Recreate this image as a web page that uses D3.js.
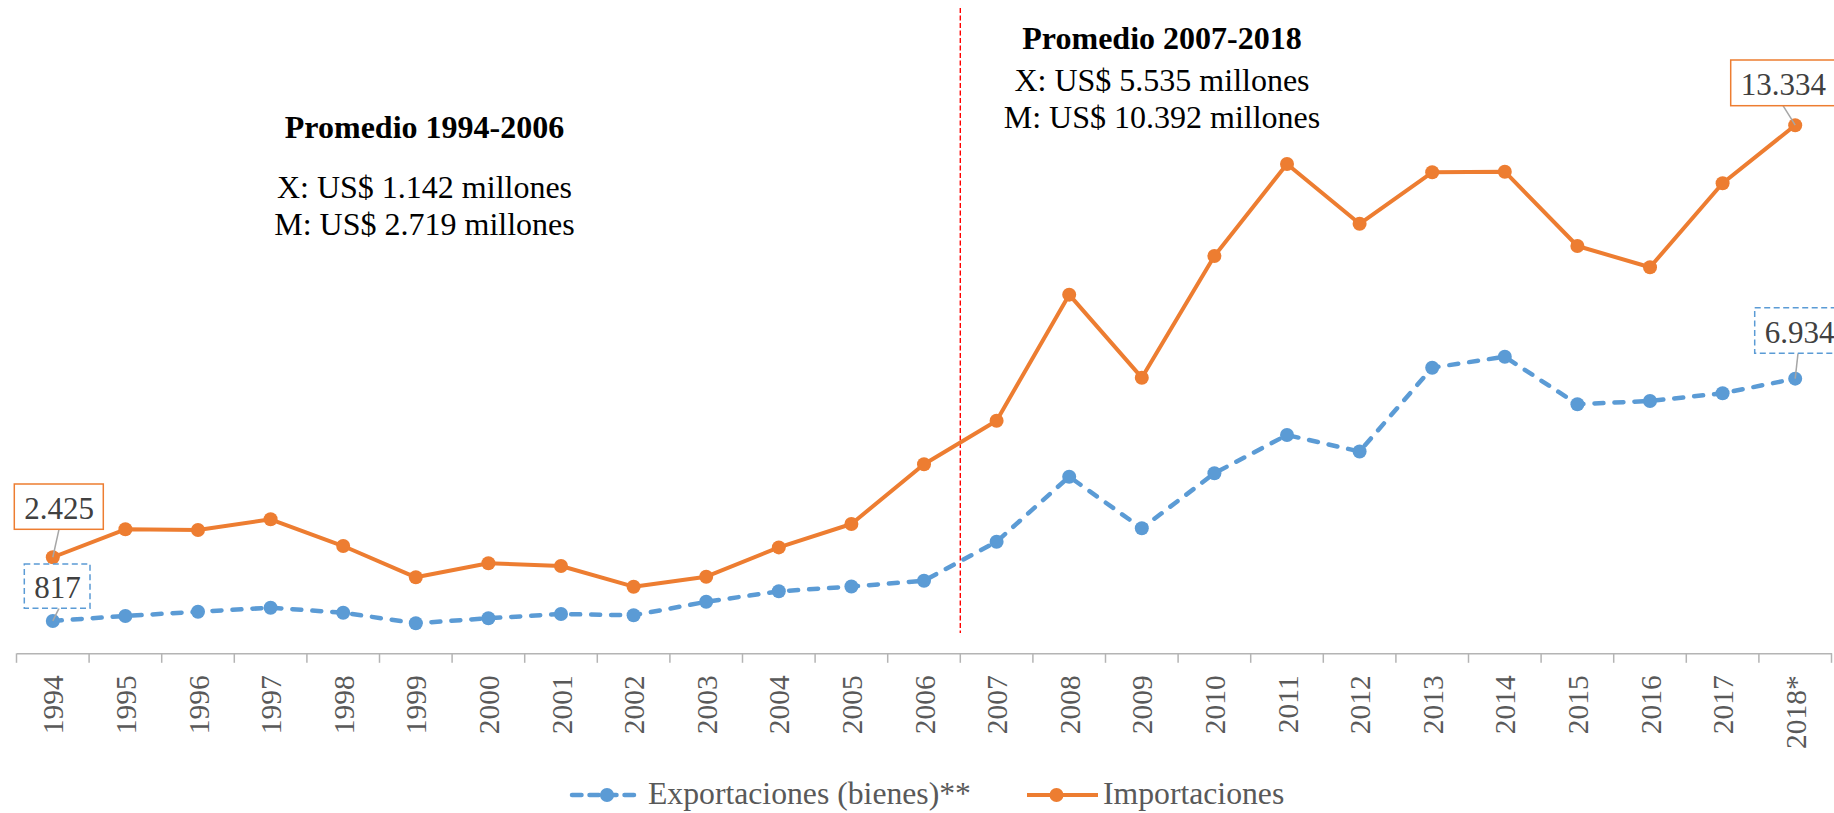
<!DOCTYPE html>
<html><head><meta charset="utf-8">
<script src="https://cdn.jsdelivr.net/npm/d3@7/dist/d3.min.js"></script>
<style>
html,body{margin:0;padding:0;background:#fff;}
svg{display:block;}
</style></head>
<body>
<svg id="chart" width="1834" height="813"></svg>
<script>
const categories = ["1994","1995","1996","1997","1998","1999","2000","2001","2002","2003","2004","2005","2006","2007","2008","2009","2010","2011","2012","2013","2014","2015","2016","2017","2018*"];
const exportaciones = [817,942,1050,1151,1025,758,884,992,960,1300,1565,1685,1833,2818,4459,3156,4545,5512,5095,7211,7489,6287,6371,6565,6934];
const importaciones = [2425,3131,3113,3384,2709,1919,2273,2204,1682,1934,2674,3265,4775,5873,9055,6959,10032,12355,10845,12145,12160,10284,9747,11868,13334];
const seriesNames = ["Exportaciones (bienes)**","Importaciones"];
const labelLast = {exp:"6.934", imp:"13.334"};
const labelFirst = {exp:"817", imp:"2.425"};
const avgLeft = ["Promedio 1994-2006","X: US$ 1.142 millones","M: US$ 2.719 millones"];
const avgRight = ["Promedio 2007-2018","X: US$ 5.535 millones","M: US$ 10.392 millones"];

const svg = d3.select("#chart");
const BLUE = "#5B9BD5", ORANGE = "#ED7D31";
const FONT = "'Liberation Serif','Times New Roman',serif";

const x = d3.scaleBand().domain(categories).range([16.5, 1831.5]).padding(0);
const y = d3.scaleLinear().domain([0, 16000]).range([653.3, 19.6]);
const cx = c => x(c) + x.bandwidth()/2;

// axis
const axisG = svg.append("g").attr("transform", `translate(0,${y(0)})`);
axisG.call(d3.axisBottom(x).tickSize(0).tickPadding(0));
axisG.select(".domain").attr("stroke", "#b4b4b4").attr("stroke-width", 1.5);
axisG.selectAll(".tick text")
  .attr("transform", "rotate(-90)")
  .attr("text-anchor", "end")
  .attr("x", -22)
  .attr("y", 0)
  .attr("dy", "0.36em")
  .attr("dx", 0)
  .style("font-family", FONT)
  .style("font-size", "29.5px")
  .attr("fill", "#595959");
// boundary ticks
const bounds = categories.map(c => x(c)).concat([x.range()[1]]);
axisG.selectAll("line.bt").data(bounds).enter().append("line")
  .attr("class","bt")
  .attr("x1", d => d).attr("x2", d => d)
  .attr("y1", 0).attr("y2", 9.5)
  .attr("stroke", "#b4b4b4").attr("stroke-width", 1.5);

// red divider
svg.append("line")
  .attr("x1", x("2007")).attr("x2", x("2007"))
  .attr("y1", 8).attr("y2", 633)
  .attr("stroke", "#ff0000").attr("stroke-width", 1.4)
  .attr("stroke-dasharray", "5 2.5");

// lines
const line = d3.line().x((d,i) => cx(categories[i])).y(d => y(d));
svg.append("path").datum(importaciones)
  .attr("d", line).attr("fill","none").attr("stroke", ORANGE)
  .attr("stroke-width", 4).attr("stroke-linejoin","round");
svg.append("path").datum(exportaciones)
  .attr("d", line).attr("fill","none").attr("stroke", BLUE)
  .attr("stroke-width", 4.5).attr("stroke-linecap","round")
  .attr("stroke-dasharray", "9 11");

svg.selectAll("circle.imp").data(importaciones).enter().append("circle")
  .attr("class","imp")
  .attr("cx", (d,i) => cx(categories[i])).attr("cy", d => y(d))
  .attr("r", 7).attr("fill", ORANGE);
svg.selectAll("circle.exp").data(exportaciones).enter().append("circle")
  .attr("class","exp")
  .attr("cx", (d,i) => cx(categories[i])).attr("cy", d => y(d))
  .attr("r", 7).attr("fill", BLUE);

// data labels with boxes
function dataLabel(text, px, py, bx, by, bw, bh, color, dashed, leaderX) {
  svg.append("line")
    .attr("x1", leaderX).attr("y1", by + bh)
    .attr("x2", px).attr("y2", py)
    .attr("stroke", "#a6a6a6").attr("stroke-width", 1.5);
  svg.append("rect")
    .attr("x", bx).attr("y", by).attr("width", bw).attr("height", bh)
    .attr("fill", "#fff").attr("stroke", color).attr("stroke-width", 1.5)
    .attr("stroke-dasharray", dashed ? "6 3.5" : null);
  svg.append("text")
    .attr("x", bx + 10).attr("y", by + bh - 10.5)
    .style("font-family", FONT).style("font-size", "31px")
    .attr("fill", "#404040").text(text);
}
const n = categories.length - 1;
dataLabel(labelFirst.imp, cx(categories[0]), y(importaciones[0]), 14.3, 484, 89, 45.3, ORANGE, false, 59);
dataLabel(labelFirst.exp, cx(categories[0]), y(exportaciones[0]), 24.3, 564, 65.7, 44.3, BLUE, true, 59);
dataLabel(labelLast.imp, cx(categories[n]), y(importaciones[n]), 1730.7, 60, 106, 45.7, ORANGE, false, 1783);
dataLabel(labelLast.exp, cx(categories[n]), y(exportaciones[n]), 1754.7, 307.7, 92, 45.6, BLUE, true, 1798);

// average annotations
function avgBlock(lines, cxp, ys) {
  lines.forEach((t, i) => {
    svg.append("text")
      .attr("x", cxp).attr("y", ys[i])
      .attr("text-anchor", "middle")
      .style("font-family", FONT).style("font-size", "32px")
      .style("font-weight", i === 0 ? "bold" : "normal")
      .attr("fill", "#000").text(t);
  });
}
avgBlock(avgLeft, 424.5, [138.3, 198.3, 235]);
avgBlock(avgRight, 1162, [49, 91, 128]);

// legend
const lg = svg.append("g");
lg.append("line").attr("x1", 572).attr("x2", 641).attr("y1", 795).attr("y2", 795)
  .attr("stroke", BLUE).attr("stroke-width", 4.5).attr("stroke-linecap","round")
  .attr("stroke-dasharray", "9.5 8");
lg.append("circle").attr("cx", 607).attr("cy", 795).attr("r", 7).attr("fill", BLUE);
lg.append("text").attr("x", 648).attr("y", 803.5)
  .style("font-family", FONT).style("font-size", "31.7px").attr("fill", "#595959")
  .text(seriesNames[0]);
lg.append("line").attr("x1", 1027).attr("x2", 1098).attr("y1", 795).attr("y2", 795)
  .attr("stroke", ORANGE).attr("stroke-width", 4);
lg.append("circle").attr("cx", 1056.5).attr("cy", 795).attr("r", 7).attr("fill", ORANGE);
lg.append("text").attr("x", 1103).attr("y", 803.5)
  .style("font-family", FONT).style("font-size", "31.7px").attr("fill", "#595959")
  .text(seriesNames[1]);
</script>
</body></html>
